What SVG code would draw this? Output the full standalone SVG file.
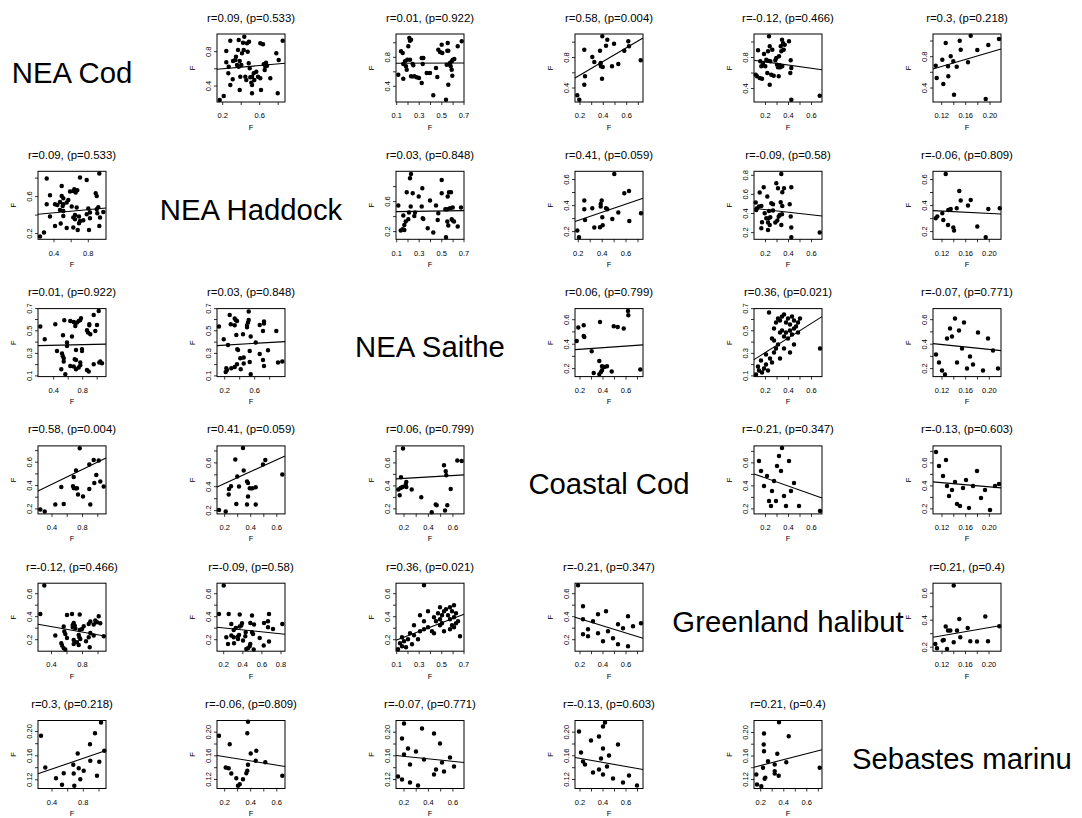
<svg xmlns="http://www.w3.org/2000/svg" xmlns:xlink="http://www.w3.org/1999/xlink" width="1082" height="818" viewBox="0 0 1082 818">
<style>
.fr{fill:none;stroke:#000;stroke-width:1}
.tk{fill:none;stroke:#000;stroke-width:0.8}
.rg{stroke:#000;stroke-width:1.1}
.pt{fill:none;stroke:#000;stroke-width:4.5;stroke-linecap:round}
text{font-family:"Liberation Sans",Arial,sans-serif;fill:#000}
.ti{font-size:11.4px;text-anchor:middle}
.xl{font-size:7.5px;text-anchor:middle}
.nm{font-size:29.3px;text-anchor:middle}
</style>
<defs>
<rect id="box" class="fr" width="68" height="68"/>
<text id="fx" class="xl" x="34" y="95.5">F</text>
<text id="fy" class="xl" transform="translate(-22.5,34) rotate(-90)">F</text>
<path id="dA" class="pt" d="M2.7 66h.01M6.7 62h.01M9.3 17h.01M13.3 6.7h.01M9.3 28.3h.01M11.7 32.7h.01M11.3 39.3h.01M13.3 51h.01M15.7 45.3h.01M16 27h.01M18.3 26h.01M19 22.7h.01M20 31h.01M21 16h.01M21.7 6h.01M22.7 27h.01M21.7 32.7h.01M23.3 42.7h.01M22.7 56h.01M24.3 31h.01M25 19.3h.01M26 8.7h.01M26.7 16h.01M27.3 2.7h.01M28.3 42.7h.01M29.3 46h.01M30 9.3h.01M30.7 17.7h.01M31.7 29.3h.01M32 7.7h.01M32.7 34.3h.01M33.3 43.3h.01M34.3 48.7h.01M35 51h.01M35 42.7h.01M35 59.3h.01M36.7 39.3h.01M37.3 46h.01M39.3 37.7h.01M41 42.7h.01M43.3 44.3h.01M44 56h.01M43.3 9.3h.01M46 10.3h.01M46.7 30.3h.01M47.7 36h.01M48.3 32.7h.01M49 28.7h.01M50 31.7h.01M53.3 44.3h.01M59.3 19.3h.01M60.7 59.3h.01M61.7 26h.01M65.7 6.7h.01"/>
<path id="dB" class="pt" d="M2.3 40.7h.01M7.3 44.7h.01M5 17.3h.01M6.7 19h.01M7.3 30h.01M9 27.3h.01M10 32.3h.01M10.7 35.7h.01M11.3 25.7h.01M12.3 12.3h.01M13.3 4h.01M14 6.7h.01M15 5.7h.01M14 25.7h.01M15 42.3h.01M16.7 30h.01M17.3 31.3h.01M18.3 42.3h.01M20.7 43.3h.01M23 44h.01M25.7 49h.01M25.7 24h.01M27.3 24h.01M26.7 30h.01M30.7 39h.01M34 39h.01M37.3 61.3h.01M40 34h.01M41.3 43h.01M42.3 15.7h.01M44 18h.01M45.7 10.7h.01M46.3 19h.01M50 65.7h.01M50.7 30.7h.01M51.3 16.7h.01M51.7 9h.01M52.3 50.7h.01M52.3 16.7h.01M54 29h.01M54.7 32.3h.01M55.7 27.3h.01M55.7 35.7h.01M56.3 41.7h.01M56.7 25.7h.01M58.3 25h.01M61.7 12.3h.01M65.7 7.3h.01"/>
<path id="dC" class="pt" d="M2.3 61.3h.01M4.3 65.7h.01M9.3 50.7h.01M10 42.3h.01M9.3 15.7h.01M17.3 23h.01M19.3 28h.01M25 16.7h.01M25.7 29h.01M26 32.3h.01M27.3 2.3h.01M27 44.7h.01M27.7 33h.01M25.3 30h.01M31 11.7h.01M32.3 5.7h.01M37 32.3h.01M39 9.7h.01M43.3 30h.01M49.3 16.7h.01M53.3 7.3h.01M54 12.3h.01M65.7 26.3h.01"/>
<path id="dD" class="pt" d="M1.7 40.7h.01M3 42.3h.01M4 16.3h.01M5.7 44h.01M8 44.7h.01M6.3 27.3h.01M7.3 32.3h.01M9 29h.01M10 20h.01M11.3 32.3h.01M12.3 25.7h.01M13.3 39h.01M14 26.7h.01M14 17.3h.01M15 2.3h.01M15.7 50.7h.01M15.7 12.3h.01M16.3 27.3h.01M17.3 40.7h.01M18.3 15.7h.01M19.7 41.7h.01M21.3 26.3h.01M22.3 24h.01M23 30.7h.01M24 33.3h.01M24.7 42.3h.01M25 22.3h.01M25.7 31.3h.01M26.3 33.3h.01M26.7 12.3h.01M27.3 17.3h.01M28 5.7h.01M28.3 32.3h.01M29 9h.01M29.7 15.7h.01M30.7 10.7h.01M35 7.3h.01M36.3 39h.01M36.7 26.3h.01M37.3 34h.01M37.3 65.7h.01M65.7 61.7h.01"/>
<path id="dE" class="pt" d="M2.7 31.7h.01M3.7 44h.01M9.3 25.7h.01M10.3 50h.01M12.7 9h.01M15 32.3h.01M15.3 42.3h.01M17.7 22.3h.01M20.3 27.3h.01M21 60.7h.01M23.7 32.7h.01M26.7 6.7h.01M27.7 15.7h.01M35 28.3h.01M37.7 1.7h.01M44.3 16h.01M52.7 65h.01M55.3 11h.01M66 5h.01"/>
<path id="dF" class="pt" d="M2.3 34.3h.01M4.7 59.3h.01M6.7 58h.01M7.3 44.3h.01M8.3 53.7h.01M8.3 58.7h.01M9.7 50.3h.01M10.7 21h.01M12.3 48h.01M13 41.3h.01M14 7h.01M15 2.7h.01M14.7 35.3h.01M16.7 22h.01M18.3 44.7h.01M19 41.3h.01M22.7 25.3h.01M26.3 17h.01M25.7 35.3h.01M26.7 47h.01M27.3 47.7h.01M31.7 57h.01M34 29.3h.01M37.3 61.3h.01M40 34.3h.01M41.7 48.7h.01M42.3 42h.01M45.7 8.7h.01M45.7 22h.01M49.3 38h.01M50 66h.01M51.3 50.3h.01M51.3 38h.01M51.7 25.3h.01M52.3 54.3h.01M53 21h.01M54 37h.01M55 21h.01M55.7 48h.01M56.7 49.3h.01M56.7 36.3h.01M58 50.3h.01M61.7 55.3h.01M65 36.3h.01"/>
<path id="dG" class="pt" d="M2.3 59.3h.01M4 66h.01M9.3 29.3h.01M9.3 38h.01M10 48.7h.01M17.3 37h.01M19.3 56.3h.01M25 56h.01M25.7 35.3h.01M25.7 32.7h.01M26.7 29.3h.01M27.3 46h.01M27.7 54h.01M31 37h.01M32.3 38h.01M37.3 47.7h.01M39.3 2.7h.01M43.3 41.3h.01M49.3 22h.01M54 19.7h.01M54.3 49.7h.01M66 42h.01"/>
<path id="dH" class="pt" d="M1.7 31.3h.01M2.3 38.7h.01M3 37h.01M5 35.3h.01M5.7 21.3h.01M7.3 34.7h.01M7.3 57h.01M8 51h.01M9.7 16h.01M10.7 42h.01M12.3 47h.01M13.3 25.3h.01M14 58.7h.01M14 51.3h.01M14.7 47h.01M15 39.7h.01M15.7 53.7h.01M16.3 46h.01M17.3 32h.01M19 33h.01M19 39.3h.01M21.3 51.3h.01M22.3 12h.01M23.3 49.3h.01M24 17h.01M24.7 45.3h.01M25.7 43.7h.01M26.7 31h.01M27.3 2.7h.01M27.3 53.7h.01M28 43h.01M28.3 34.7h.01M28.3 21h.01M30 17h.01M35.7 33h.01M36.7 45.3h.01M37.3 16h.01M37.3 56.3h.01M37.3 66h.01M65.7 61.3h.01"/>
<path id="dI" class="pt" d="M2.7 47h.01M4.3 45.3h.01M9.3 42h.01M10.3 48.7h.01M12.7 2.7h.01M15 53.7h.01M15.3 38.7h.01M17.7 37.7h.01M20.3 56.3h.01M21 59.3h.01M23.7 37h.01M26.3 19.7h.01M27.7 29.3h.01M35 34.3h.01M37.7 28.7h.01M44.3 55.3h.01M52.7 66h.01M55.3 37.7h.01M66.7 37h.01"/>
<path id="dJ" class="pt" d="M1.7 32.3h.01M3.3 19h.01M8.7 16.7h.01M8.7 27.3h.01M9.3 28.3h.01M16.7 42.7h.01M18.7 64.3h.01M24.3 52.3h.01M25 13.3h.01M24.3 65.7h.01M26 63.3h.01M27 57.7h.01M27 61.7h.01M29.3 58.3h.01M32 57.7h.01M36.7 63h.01M38.7 17.7h.01M42.7 18.3h.01M48.7 20h.01M53 2.3h.01M53.3 6.7h.01M65.3 61h.01"/>
<path id="dK" class="pt" d="M2 66h.01M5 62h.01M4 58h.01M8 64h.01M10 60h.01M12 56h.01M14 62h.01M7 52h.01M16 50h.01M18 54h.01M12 46h.01M20 44h.01M22 40h.01M24 36h.01M18 30h.01M20 20h.01M22 14h.01M24 10h.01M26 12h.01M28 8h.01M30 6h.01M32 14h.01M34 10h.01M36 16h.01M38 8h.01M40 12h.01M42 18h.01M26 24h.01M28 22h.01M30 28h.01M32 24h.01M34 30h.01M36 22h.01M38 26h.01M40 20h.01M44 14h.01M46 10h.01M30 40h.01M36 44h.01M40 36h.01M26 50h.01M44 24h.01M66 40h.01M15 4h.01M20 32h.01"/>
<path id="dL" class="pt" d="M3 46h.01M6 54h.01M9 62h.01M12 66h.01M14 30h.01M17 20h.01M19 28h.01M22 10h.01M24 54h.01M26 22h.01M29 40h.01M31 14h.01M34 60h.01M37 48h.01M40 56h.01M45 24h.01M50 62h.01M55 30h.01M60 42h.01M65 60h.01"/>
<path id="dM" class="pt" d="M5 15h.01M7 25h.01M10 40h.01M13 30h.01M15 55h.01M17 60h.01M20 35h.01M23 20h.01M25 10h.01M27 25h.01M30 50h.01M32 60h.01M35 15h.01M37 45h.01M40 37h.01M45 60h.01M66 65h.01M28 2h.01M18 45h.01M22 55h.01"/>
<path id="dN" class="pt" d="M3 6h.01M6 20h.01M10 30h.01M13 14h.01M16 50h.01M19 44h.01M22 36h.01M24 58h.01M27 60h.01M30 42h.01M33 34h.01M36 62h.01M40 40h.01M44 25h.01M48 52h.01M52 44h.01M57 64h.01M62 40h.01M66 38h.01M14 40h.01"/>
<path id="dO" class="pt" d="M2.3 60.7h.01M4 65h.01M9.7 57.3h.01M10.7 56.7h.01M12.7 43.3h.01M15 47.3h.01M17.3 47.3h.01M20.7 2.3h.01M20.7 59h.01M14 65.7h.01M24 47.3h.01M26.3 35.7h.01M27.3 54h.01M34.7 44.7h.01M37.3 58h.01M44 58.3h.01M52.3 33.3h.01M55 58h.01M66.3 43h.01"/>
</defs>

<g id="names">
<text class="nm" x="72" y="82.5">NEA Cod</text>
<text class="nm" x="251" y="219.8">NEA Haddock</text>
<text class="nm" x="430" y="357.1">NEA Saithe</text>
<text class="nm" x="609" y="494.4">Coastal Cod</text>
<text class="nm" x="788" y="631.7">Greenland halibut</text>
<text class="nm" x="852" y="768.5" style="text-anchor:start">Sebastes marinu</text>
</g>

<!-- row 0 -->
<g id="p01" transform="translate(217,34)"><use href="#box"/><text class="ti" x="34" y="-12.5">r=0.09, (p=0.533)</text>
<path class="tk" d="M5.7 68v3M24.2 68v3M42.7 68v3M61.2 68v3M0 52h-3M0 34.8h-3M0 17.7h-3"/>
<text class="xl" x="5.7" y="84.3">0.2</text><text class="xl" x="42.7" y="84.3">0.6</text>
<text class="xl" transform="translate(-6,52) rotate(-90)">0.4</text><text class="xl" transform="translate(-6,17.7) rotate(-90)">0.8</text>
<use href="#fx"/><use href="#fy"/><use href="#dA"/><line class="rg" x1="0" y1="35.3" x2="68" y2="29.3"/></g>

<g id="p02" transform="translate(396,34)"><use href="#box"/><text class="ti" x="34" y="-12.5">r=0.01, (p=0.922)</text>
<path class="tk" d="M0.7 68v3M12 68v3M23.2 68v3M34.5 68v3M45.8 68v3M57.1 68v3M68 68v3M0 52.3h-3M0 37.8h-3M0 23.3h-3M0 8.8h-3"/>
<text class="xl" x="0.7" y="84.3">0.1</text><text class="xl" x="23.2" y="84.3">0.3</text><text class="xl" x="45.8" y="84.3">0.5</text><text class="xl" x="68" y="84.3">0.7</text>
<text class="xl" transform="translate(-6,52.3) rotate(-90)">0.4</text><text class="xl" transform="translate(-6,23.3) rotate(-90)">0.8</text>
<use href="#fx"/><use href="#fy"/><use href="#dB"/><line class="rg" x1="0" y1="29.3" x2="68" y2="29"/></g>

<g id="p03" transform="translate(575,34)"><use href="#box"/><text class="ti" x="34" y="-12.5">r=0.58, (p=0.004)</text>
<path class="tk" d="M5 68v3M16.7 68v3M28.3 68v3M40 68v3M51.7 68v3M63.3 68v3M0 54h-3M0 38.8h-3M0 23.5h-3M0 8.2h-3"/>
<text class="xl" x="5" y="84.3">0.2</text><text class="xl" x="28.3" y="84.3">0.4</text><text class="xl" x="51.7" y="84.3">0.6</text>
<text class="xl" transform="translate(-6,54) rotate(-90)">0.4</text><text class="xl" transform="translate(-6,23.5) rotate(-90)">0.8</text>
<use href="#fx"/><use href="#fy"/><use href="#dC"/><line class="rg" x1="0" y1="44" x2="68" y2="4"/></g>

<g id="p04" transform="translate(754,34)"><use href="#box"/><text class="ti" x="34" y="-12.5">r=-0.12, (p=0.466)</text>
<path class="tk" d="M11.5 68v3M23 68v3M34.5 68v3M46 68v3M57.5 68v3M0 54.5h-3M0 39h-3M0 23.5h-3M0 8h-3"/>
<text class="xl" x="11.5" y="84.3">0.2</text><text class="xl" x="34.5" y="84.3">0.4</text><text class="xl" x="57.5" y="84.3">0.6</text>
<text class="xl" transform="translate(-6,54.5) rotate(-90)">0.4</text><text class="xl" transform="translate(-6,23.5) rotate(-90)">0.8</text>
<use href="#fx"/><use href="#fy"/><use href="#dD"/><line class="rg" x1="0" y1="26.3" x2="68" y2="35.7"/></g>

<g id="p05" transform="translate(933,34)"><use href="#box"/><text class="ti" x="34" y="-12.5">r=0.3, (p=0.218)</text>
<path class="tk" d="M8.7 68v3M20.8 68v3M32.7 68v3M44.8 68v3M57 68v3M0 54h-3M0 38.3h-3M0 22.7h-3M0 7h-3"/>
<text class="xl" x="8.7" y="84.3">0.12</text><text class="xl" x="32.7" y="84.3">0.16</text><text class="xl" x="57" y="84.3">0.20</text>
<text class="xl" transform="translate(-6,54) rotate(-90)">0.4</text><text class="xl" transform="translate(-6,22.7) rotate(-90)">0.8</text>
<use href="#fx"/><use href="#fy"/><use href="#dE"/><line class="rg" x1="0" y1="35" x2="68" y2="15"/></g>

<!-- row 1 -->
<g id="p10" transform="translate(38,171.3)"><use href="#box"/><text class="ti" x="34" y="-12.5">r=0.09, (p=0.533)</text>
<path class="tk" d="M16 68v3M33.2 68v3M50.3 68v3M0 62.3h-3M0 43.8h-3M0 25.3h-3M0 6.8h-3"/>
<text class="xl" x="16" y="84.3">0.4</text><text class="xl" x="50.3" y="84.3">0.8</text>
<text class="xl" transform="translate(-6,62.3) rotate(-90)">0.2</text><text class="xl" transform="translate(-6,25.3) rotate(-90)">0.6</text>
<use href="#fx"/><use href="#fy"/><use href="#dA" transform="matrix(0 -1 -1 0 68 68)"/><line class="rg" x1="0" y1="43" x2="68" y2="36.7"/></g>

<g id="p12" transform="translate(396,171.3)"><use href="#box"/><text class="ti" x="34" y="-12.5">r=0.03, (p=0.848)</text>
<path class="tk" d="M0.7 68v3M12 68v3M23.2 68v3M34.5 68v3M45.8 68v3M57.1 68v3M68 68v3M0 60.3h-3M0 45.3h-3M0 30.3h-3M0 15.3h-3"/>
<text class="xl" x="0.7" y="84.3">0.1</text><text class="xl" x="23.2" y="84.3">0.3</text><text class="xl" x="45.8" y="84.3">0.5</text><text class="xl" x="68" y="84.3">0.7</text>
<text class="xl" transform="translate(-6,60.3) rotate(-90)">0.2</text><text class="xl" transform="translate(-6,30.3) rotate(-90)">0.6</text>
<use href="#fx"/><use href="#fy"/><use href="#dF"/><line class="rg" x1="0" y1="40.3" x2="68" y2="39.3"/></g>

<g id="p13" transform="translate(575,171.3)"><use href="#box"/><text class="ti" x="34" y="-12.5">r=0.41, (p=0.059)</text>
<path class="tk" d="M3.3 68v3M15.2 68v3M27.2 68v3M39.1 68v3M51 68v3M63 68v3M0 60.3h-3M0 47.3h-3M0 34.3h-3M0 21.2h-3M0 8.2h-3"/>
<text class="xl" x="3.3" y="84.3">0.2</text><text class="xl" x="27.2" y="84.3">0.4</text><text class="xl" x="51" y="84.3">0.6</text>
<text class="xl" transform="translate(-6,60.3) rotate(-90)">0.2</text><text class="xl" transform="translate(-6,34.3) rotate(-90)">0.4</text><text class="xl" transform="translate(-6,8.2) rotate(-90)">0.6</text>
<use href="#fx"/><use href="#fy"/><use href="#dG"/><line class="rg" x1="0" y1="50.3" x2="68" y2="27"/></g>

<g id="p14" transform="translate(754,171.3)"><use href="#box"/><text class="ti" x="34" y="-12.5">r=-0.09, (p=0.58)</text>
<path class="tk" d="M11.5 68v3M23 68v3M34.5 68v3M46 68v3M57.5 68v3M0 61.3h-3M0 42.2h-3M0 23.1h-3M0 4h-3"/>
<text class="xl" x="11.5" y="84.3">0.2</text><text class="xl" x="34.5" y="84.3">0.4</text><text class="xl" x="57.5" y="84.3">0.6</text>
<text class="xl" transform="translate(-6,61.3) rotate(-90)">0.2</text><text class="xl" transform="translate(-6,42.2) rotate(-90)">0.4</text><text class="xl" transform="translate(-6,23.1) rotate(-90)">0.6</text><text class="xl" transform="translate(-6,4) rotate(-90)">0.8</text>
<use href="#fx"/><use href="#fy"/><use href="#dH"/><line class="rg" x1="0" y1="37" x2="68" y2="44.7"/></g>

<g id="p15" transform="translate(933,171.3)"><use href="#box"/><text class="ti" x="34" y="-12.5">r=-0.06, (p=0.809)</text>
<path class="tk" d="M9 68v3M20.8 68v3M32.7 68v3M44.5 68v3M56.3 68v3M0 60.3h-3M0 47.3h-3M0 34.3h-3M0 21.2h-3M0 8.2h-3"/>
<text class="xl" x="9" y="84.3">0.12</text><text class="xl" x="32.7" y="84.3">0.16</text><text class="xl" x="56.3" y="84.3">0.20</text>
<text class="xl" transform="translate(-6,60.3) rotate(-90)">0.2</text><text class="xl" transform="translate(-6,34.3) rotate(-90)">0.4</text><text class="xl" transform="translate(-6,8.2) rotate(-90)">0.6</text>
<use href="#fx"/><use href="#fy"/><use href="#dI"/><line class="rg" x1="0" y1="39.3" x2="68" y2="42.7"/></g>

<!-- row 2 -->
<g id="p20" transform="translate(38,308.6)"><use href="#box"/><text class="ti" x="34" y="-12.5">r=0.01, (p=0.922)</text>
<path class="tk" d="M15.7 68v3M30.2 68v3M44.7 68v3M59.2 68v3M0 67.3h-3M0 56h-3M0 44.8h-3M0 33.5h-3M0 22.2h-3M0 10.9h-3M0 0h-3"/>
<text class="xl" x="15.7" y="84.3">0.4</text><text class="xl" x="44.7" y="84.3">0.8</text>
<text class="xl" transform="translate(-6,67.3) rotate(-90)">0.1</text><text class="xl" transform="translate(-6,44.8) rotate(-90)">0.3</text><text class="xl" transform="translate(-6,22.2) rotate(-90)">0.5</text><text class="xl" transform="translate(-6,0) rotate(-90)">0.7</text>
<use href="#fx"/><use href="#fy"/><use href="#dB" transform="matrix(0 -1 -1 0 68 68)"/><line class="rg" x1="0" y1="37" x2="68" y2="35.5"/></g>

<g id="p21" transform="translate(217,308.6)"><use href="#box"/><text class="ti" x="34" y="-12.5">r=0.03, (p=0.848)</text>
<path class="tk" d="M7.7 68v3M22.7 68v3M37.7 68v3M52.7 68v3M0 67.3h-3M0 56h-3M0 44.8h-3M0 33.5h-3M0 22.2h-3M0 10.9h-3M0 0h-3"/>
<text class="xl" x="7.7" y="84.3">0.2</text><text class="xl" x="37.7" y="84.3">0.6</text>
<text class="xl" transform="translate(-6,67.3) rotate(-90)">0.1</text><text class="xl" transform="translate(-6,44.8) rotate(-90)">0.3</text><text class="xl" transform="translate(-6,22.2) rotate(-90)">0.5</text><text class="xl" transform="translate(-6,0) rotate(-90)">0.7</text>
<use href="#fx"/><use href="#fy"/><use href="#dF" transform="matrix(0 -1 -1 0 68 68)"/><line class="rg" x1="0" y1="37" x2="68" y2="33"/></g>

<g id="p23" transform="translate(575,308.6)"><use href="#box"/><text class="ti" x="34" y="-12.5">r=0.06, (p=0.799)</text>
<path class="tk" d="M5 68v3M16.5 68v3M28 68v3M39.5 68v3M51 68v3M62.5 68v3M0 60h-3M0 47.8h-3M0 35.6h-3M0 23.3h-3M0 11.1h-3"/>
<text class="xl" x="5" y="84.3">0.2</text><text class="xl" x="28" y="84.3">0.4</text><text class="xl" x="51" y="84.3">0.6</text>
<text class="xl" transform="translate(-6,60) rotate(-90)">0.2</text><text class="xl" transform="translate(-6,35.6) rotate(-90)">0.4</text><text class="xl" transform="translate(-6,11.1) rotate(-90)">0.6</text>
<use href="#fx"/><use href="#fy"/><use href="#dJ"/><line class="rg" x1="0" y1="41" x2="68" y2="36.3"/></g>

<g id="p24" transform="translate(754,308.6)"><use href="#box"/><text class="ti" x="34" y="-12.5">r=0.36, (p=0.021)</text>
<path class="tk" d="M11.5 68v3M23 68v3M34.5 68v3M46 68v3M57.5 68v3M0 67.3h-3M0 56h-3M0 44.8h-3M0 33.5h-3M0 22.2h-3M0 10.9h-3M0 0h-3"/>
<text class="xl" x="11.5" y="84.3">0.2</text><text class="xl" x="34.5" y="84.3">0.4</text><text class="xl" x="57.5" y="84.3">0.6</text>
<text class="xl" transform="translate(-6,67.3) rotate(-90)">0.1</text><text class="xl" transform="translate(-6,44.8) rotate(-90)">0.3</text><text class="xl" transform="translate(-6,22.2) rotate(-90)">0.5</text><text class="xl" transform="translate(-6,0) rotate(-90)">0.7</text>
<use href="#fx"/><use href="#fy"/><use href="#dK"/><line class="rg" x1="0" y1="51" x2="68" y2="8"/></g>

<g id="p25" transform="translate(933,308.6)"><use href="#box"/><text class="ti" x="34" y="-12.5">r=-0.07, (p=0.771)</text>
<path class="tk" d="M9 68v3M20.8 68v3M32.7 68v3M44.5 68v3M56.3 68v3M0 60h-3M0 47.8h-3M0 35.6h-3M0 23.3h-3M0 11.1h-3"/>
<text class="xl" x="9" y="84.3">0.12</text><text class="xl" x="32.7" y="84.3">0.16</text><text class="xl" x="56.3" y="84.3">0.20</text>
<text class="xl" transform="translate(-6,60) rotate(-90)">0.2</text><text class="xl" transform="translate(-6,35.6) rotate(-90)">0.4</text><text class="xl" transform="translate(-6,11.1) rotate(-90)">0.6</text>
<use href="#fx"/><use href="#fy"/><use href="#dL"/><line class="rg" x1="0" y1="35" x2="68" y2="42"/></g>

<!-- row 3 -->
<g id="p30" transform="translate(38,445.9)"><use href="#box"/><text class="ti" x="34" y="-12.5">r=0.58, (p=0.004)</text>
<path class="tk" d="M14 68v3M29.2 68v3M44.5 68v3M59.8 68v3M0 63h-3M0 51.3h-3M0 39.7h-3M0 28h-3M0 16.3h-3M0 4.7h-3"/>
<text class="xl" x="14" y="84.3">0.4</text><text class="xl" x="44.5" y="84.3">0.8</text>
<text class="xl" transform="translate(-6,63) rotate(-90)">0.2</text><text class="xl" transform="translate(-6,39.7) rotate(-90)">0.4</text><text class="xl" transform="translate(-6,16.3) rotate(-90)">0.6</text>
<use href="#fx"/><use href="#fy"/><use href="#dC" transform="matrix(0 -1 -1 0 68 68)"/><line class="rg" x1="0" y1="45" x2="68" y2="12"/></g>

<g id="p31" transform="translate(217,445.9)"><use href="#box"/><text class="ti" x="34" y="-12.5">r=0.41, (p=0.059)</text>
<path class="tk" d="M7.7 68v3M20.7 68v3M33.7 68v3M46.8 68v3M59.8 68v3M0 64.7h-3M0 52.8h-3M0 40.8h-3M0 28.9h-3M0 17h-3M0 5h-3"/>
<text class="xl" x="7.7" y="84.3">0.2</text><text class="xl" x="33.7" y="84.3">0.4</text><text class="xl" x="59.8" y="84.3">0.6</text>
<text class="xl" transform="translate(-6,64.7) rotate(-90)">0.2</text><text class="xl" transform="translate(-6,40.8) rotate(-90)">0.4</text><text class="xl" transform="translate(-6,17) rotate(-90)">0.6</text>
<use href="#fx"/><use href="#fy"/><use href="#dG" transform="matrix(0 -1 -1 0 68 68)"/><line class="rg" x1="0" y1="41" x2="68" y2="10"/></g>

<g id="p32" transform="translate(396,445.9)"><use href="#box"/><text class="ti" x="34" y="-12.5">r=0.06, (p=0.799)</text>
<path class="tk" d="M8 68v3M20.2 68v3M32.4 68v3M44.7 68v3M56.9 68v3M0 63h-3M0 51.5h-3M0 40h-3M0 28.5h-3M0 17h-3M0 5.5h-3"/>
<text class="xl" x="8" y="84.3">0.2</text><text class="xl" x="32.4" y="84.3">0.4</text><text class="xl" x="56.9" y="84.3">0.6</text>
<text class="xl" transform="translate(-6,63) rotate(-90)">0.2</text><text class="xl" transform="translate(-6,40) rotate(-90)">0.4</text><text class="xl" transform="translate(-6,17) rotate(-90)">0.6</text>
<use href="#fx"/><use href="#fy"/><use href="#dJ" transform="matrix(0 -1 -1 0 68 68)"/><line class="rg" x1="0" y1="33" x2="68" y2="29"/></g>

<g id="p34" transform="translate(754,445.9)"><use href="#box"/><text class="ti" x="34" y="-12.5">r=-0.21, (p=0.347)</text>
<path class="tk" d="M11.5 68v3M23 68v3M34.5 68v3M46 68v3M57.5 68v3M0 63h-3M0 51.5h-3M0 40h-3M0 28.5h-3M0 17h-3M0 5.5h-3"/>
<text class="xl" x="11.5" y="84.3">0.2</text><text class="xl" x="34.5" y="84.3">0.4</text><text class="xl" x="57.5" y="84.3">0.6</text>
<text class="xl" transform="translate(-6,63) rotate(-90)">0.2</text><text class="xl" transform="translate(-6,40) rotate(-90)">0.4</text><text class="xl" transform="translate(-6,17) rotate(-90)">0.6</text>
<use href="#fx"/><use href="#fy"/><use href="#dM"/><line class="rg" x1="0" y1="28" x2="68" y2="52"/></g>

<g id="p35" transform="translate(933,445.9)"><use href="#box"/><text class="ti" x="34" y="-12.5">r=-0.13, (p=0.603)</text>
<path class="tk" d="M9 68v3M20.8 68v3M32.7 68v3M44.5 68v3M56.3 68v3M0 63h-3M0 51.5h-3M0 40h-3M0 28.5h-3M0 17h-3M0 5.5h-3"/>
<text class="xl" x="9" y="84.3">0.12</text><text class="xl" x="32.7" y="84.3">0.16</text><text class="xl" x="56.3" y="84.3">0.20</text>
<text class="xl" transform="translate(-6,63) rotate(-90)">0.2</text><text class="xl" transform="translate(-6,40) rotate(-90)">0.4</text><text class="xl" transform="translate(-6,17) rotate(-90)">0.6</text>
<use href="#fx"/><use href="#fy"/><use href="#dN"/><line class="rg" x1="0" y1="36" x2="68" y2="42"/></g>

<!-- row 4 -->
<g id="p40" transform="translate(38,583.2)"><use href="#box"/><text class="ti" x="34" y="-12.5">r=-0.12, (p=0.466)</text>
<path class="tk" d="M13.5 68v3M29 68v3M44.5 68v3M60 68v3M0 56.5h-3M0 45h-3M0 33.5h-3M0 22h-3M0 10.5h-3"/>
<text class="xl" x="13.5" y="84.3">0.4</text><text class="xl" x="44.5" y="84.3">0.8</text>
<text class="xl" transform="translate(-6,56.5) rotate(-90)">0.2</text><text class="xl" transform="translate(-6,33.5) rotate(-90)">0.4</text><text class="xl" transform="translate(-6,10.5) rotate(-90)">0.6</text>
<use href="#fx"/><use href="#fy"/><use href="#dD" transform="matrix(0 -1 -1 0 68 68)"/><line class="rg" x1="0" y1="41" x2="68" y2="53"/></g>

<g id="p41" transform="translate(217,583.2)"><use href="#box"/><text class="ti" x="34" y="-12.5">r=-0.09, (p=0.58)</text>
<path class="tk" d="M6.7 68v3M25.8 68v3M44.9 68v3M64 68v3M0 56.5h-3M0 45h-3M0 33.5h-3M0 22h-3M0 10.5h-3"/>
<text class="xl" x="6.7" y="84.3">0.2</text><text class="xl" x="25.8" y="84.3">0.4</text><text class="xl" x="44.9" y="84.3">0.6</text><text class="xl" x="64" y="84.3">0.8</text>
<text class="xl" transform="translate(-6,56.5) rotate(-90)">0.2</text><text class="xl" transform="translate(-6,33.5) rotate(-90)">0.4</text><text class="xl" transform="translate(-6,10.5) rotate(-90)">0.6</text>
<use href="#fx"/><use href="#fy"/><use href="#dH" transform="matrix(0 -1 -1 0 68 68)"/><line class="rg" x1="0" y1="44" x2="68" y2="51"/></g>

<g id="p42" transform="translate(396,583.2)"><use href="#box"/><text class="ti" x="34" y="-12.5">r=0.36, (p=0.021)</text>
<path class="tk" d="M0.7 68v3M12 68v3M23.2 68v3M34.5 68v3M45.8 68v3M57.1 68v3M68 68v3M0 56.5h-3M0 45h-3M0 33.5h-3M0 22h-3M0 10.5h-3"/>
<text class="xl" x="0.7" y="84.3">0.1</text><text class="xl" x="23.2" y="84.3">0.3</text><text class="xl" x="45.8" y="84.3">0.5</text><text class="xl" x="68" y="84.3">0.7</text>
<text class="xl" transform="translate(-6,56.5) rotate(-90)">0.2</text><text class="xl" transform="translate(-6,33.5) rotate(-90)">0.4</text><text class="xl" transform="translate(-6,10.5) rotate(-90)">0.6</text>
<use href="#fx"/><use href="#fy"/><use href="#dK" transform="matrix(0 -1 -1 0 68 68)"/><line class="rg" x1="0" y1="57" x2="68" y2="31"/></g>

<g id="p43" transform="translate(575,583.2)"><use href="#box"/><text class="ti" x="34" y="-12.5">r=-0.21, (p=0.347)</text>
<path class="tk" d="M5 68v3M16.5 68v3M28 68v3M39.5 68v3M51 68v3M62.5 68v3M0 56.5h-3M0 45h-3M0 33.5h-3M0 22h-3M0 10.5h-3"/>
<text class="xl" x="5" y="84.3">0.2</text><text class="xl" x="28" y="84.3">0.4</text><text class="xl" x="51" y="84.3">0.6</text>
<text class="xl" transform="translate(-6,56.5) rotate(-90)">0.2</text><text class="xl" transform="translate(-6,33.5) rotate(-90)">0.4</text><text class="xl" transform="translate(-6,10.5) rotate(-90)">0.6</text>
<use href="#fx"/><use href="#fy"/><use href="#dM" transform="matrix(0 -1 -1 0 68 68)"/><line class="rg" x1="0" y1="34" x2="68" y2="55"/></g>

<g id="p45" transform="translate(933,583.2)"><use href="#box"/><text class="ti" x="34" y="-12.5">r=0.21, (p=0.4)</text>
<path class="tk" d="M9 68v3M20.8 68v3M32.5 68v3M44.3 68v3M56 68v3M0 64h-3M0 50.5h-3M0 37h-3M0 23.5h-3M0 10h-3"/>
<text class="xl" x="9" y="84.3">0.12</text><text class="xl" x="32.5" y="84.3">0.16</text><text class="xl" x="56" y="84.3">0.20</text>
<text class="xl" transform="translate(-6,64) rotate(-90)">0.2</text><text class="xl" transform="translate(-6,37) rotate(-90)">0.4</text><text class="xl" transform="translate(-6,10) rotate(-90)">0.6</text>
<use href="#fx"/><use href="#fy"/><use href="#dO"/><line class="rg" x1="0" y1="54" x2="68" y2="42.3"/></g>

<!-- row 5 -->
<g id="p50" transform="translate(38,720.5)"><use href="#box"/><text class="ti" x="34" y="-12.5">r=0.3, (p=0.218)</text>
<path class="tk" d="M14 68v3M29.7 68v3M45.3 68v3M61 68v3M0 59.3h-3M0 47.2h-3M0 35.3h-3M0 23.2h-3M0 11h-3"/>
<text class="xl" x="14" y="84.3">0.4</text><text class="xl" x="45.3" y="84.3">0.8</text>
<text class="xl" transform="translate(-6,59.3) rotate(-90)">0.12</text><text class="xl" transform="translate(-6,35.3) rotate(-90)">0.16</text><text class="xl" transform="translate(-6,11) rotate(-90)">0.20</text>
<use href="#fx"/><use href="#fy"/><use href="#dE" transform="matrix(0 -1 -1 0 68 68)"/><line class="rg" x1="0" y1="53.3" x2="68" y2="30"/></g>

<g id="p51" transform="translate(217,720.5)"><use href="#box"/><text class="ti" x="34" y="-12.5">r=-0.06, (p=0.809)</text>
<path class="tk" d="M7.7 68v3M20.7 68v3M33.7 68v3M46.8 68v3M59.8 68v3M0 59h-3M0 47.2h-3M0 35.3h-3M0 23.5h-3M0 11.7h-3"/>
<text class="xl" x="7.7" y="84.3">0.2</text><text class="xl" x="33.7" y="84.3">0.4</text><text class="xl" x="59.8" y="84.3">0.6</text>
<text class="xl" transform="translate(-6,59) rotate(-90)">0.12</text><text class="xl" transform="translate(-6,35.3) rotate(-90)">0.16</text><text class="xl" transform="translate(-6,11.7) rotate(-90)">0.20</text>
<use href="#fx"/><use href="#fy"/><use href="#dI" transform="matrix(0 -1 -1 0 68 68)"/><line class="rg" x1="0" y1="35" x2="68" y2="46"/></g>

<g id="p52" transform="translate(396,720.5)"><use href="#box"/><text class="ti" x="34" y="-12.5">r=-0.07, (p=0.771)</text>
<path class="tk" d="M8 68v3M20.2 68v3M32.4 68v3M44.7 68v3M56.9 68v3M0 59h-3M0 47.2h-3M0 35.3h-3M0 23.5h-3M0 11.7h-3"/>
<text class="xl" x="8" y="84.3">0.2</text><text class="xl" x="32.4" y="84.3">0.4</text><text class="xl" x="56.9" y="84.3">0.6</text>
<text class="xl" transform="translate(-6,59) rotate(-90)">0.12</text><text class="xl" transform="translate(-6,35.3) rotate(-90)">0.16</text><text class="xl" transform="translate(-6,11.7) rotate(-90)">0.20</text>
<use href="#fx"/><use href="#fy"/><use href="#dL" transform="matrix(0 -1 -1 0 68 68)"/><line class="rg" x1="0" y1="35" x2="68" y2="42"/></g>

<g id="p53" transform="translate(575,720.5)"><use href="#box"/><text class="ti" x="34" y="-12.5">r=-0.13, (p=0.603)</text>
<path class="tk" d="M5 68v3M16.5 68v3M28 68v3M39.5 68v3M51 68v3M62.5 68v3M0 59h-3M0 47.2h-3M0 35.3h-3M0 23.5h-3M0 11.7h-3"/>
<text class="xl" x="5" y="84.3">0.2</text><text class="xl" x="28" y="84.3">0.4</text><text class="xl" x="51" y="84.3">0.6</text>
<text class="xl" transform="translate(-6,59) rotate(-90)">0.12</text><text class="xl" transform="translate(-6,35.3) rotate(-90)">0.16</text><text class="xl" transform="translate(-6,11.7) rotate(-90)">0.20</text>
<use href="#fx"/><use href="#fy"/><use href="#dN" transform="matrix(0 -1 -1 0 68 68)"/><line class="rg" x1="0" y1="37" x2="68" y2="49"/></g>

<g id="p54" transform="translate(754,720.5)"><use href="#box"/><text class="ti" x="34" y="-12.5">r=0.21, (p=0.4)</text>
<path class="tk" d="M6.7 68v3M18.2 68v3M29.8 68v3M41.3 68v3M52.8 68v3M64.3 68v3M0 59h-3M0 47.2h-3M0 35.5h-3M0 23.7h-3M0 12h-3"/>
<text class="xl" x="6.7" y="84.3">0.2</text><text class="xl" x="29.8" y="84.3">0.4</text><text class="xl" x="52.8" y="84.3">0.6</text>
<text class="xl" transform="translate(-6,59) rotate(-90)">0.12</text><text class="xl" transform="translate(-6,35.5) rotate(-90)">0.16</text><text class="xl" transform="translate(-6,12) rotate(-90)">0.20</text>
<use href="#fx"/><use href="#fy"/><use href="#dO" transform="matrix(0 -1 -1 0 68 68)"/><line class="rg" x1="0" y1="46.7" x2="68" y2="29.3"/></g>
</svg>
